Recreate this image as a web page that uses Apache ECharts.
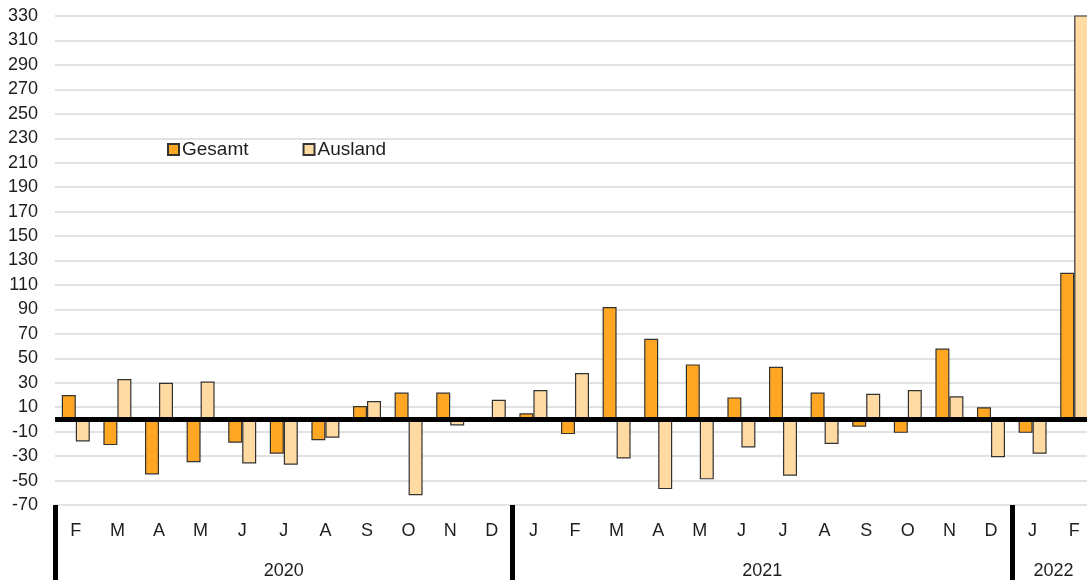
<!DOCTYPE html>
<html>
<head>
<meta charset="utf-8">
<script src="https://cdn.jsdelivr.net/npm/echarts@6/dist/echarts.min.js"></script>
<style>
  html, body { margin: 0; padding: 0; background: #fff; }
  #chart { width: 1087px; height: 580px; }
</style>
</head>
<body>
<div id="chart"></div>
<script>
// month labels, one per bar pair
const months = ['F', 'M', 'A', 'M', 'J', 'J', 'A', 'S', 'O', 'N', 'D',
  'J', 'F', 'M', 'A', 'M', 'J', 'J', 'A', 'S', 'O', 'N', 'D',
  'J', 'F'];
const years = ['2020', '2021', '2022'];
const yearCounts = [11, 12, 2];

const gesamt = [20, -21, -45, -35, -19, -28, -17, 11, 22, 22, 0,
  5, -12, 92, 66, 45, 18, 43, 22, -6, -11, 58, 10,
  -11, 120];
const ausland = [-18, 33, 30, 31, -36, -37, -15, 15, -62, -5, 16,
  24, 38, -32, -57, -49, -23, -46, -20, 21, 24, 19, -31,
  -28, 332];

// year group boundaries and centres on a 0..n scale
const bounds = [0];
const centres = [];
yearCounts.forEach(function (c) {
  const start = bounds[bounds.length - 1];
  centres.push(start + c / 2);
  bounds.push(start + c);
});

const font = 'Liberation Sans, Arial, sans-serif';
const textColor = '#1e1e1e';

const chart = echarts.init(document.getElementById('chart'));
chart.setOption({
  animation: false,
  textStyle: { fontFamily: font },
  // plot runs past the right edge, like the cropped original
  grid: { left: 55, top: 16, width: 1040, height: 489, outerBoundsMode: 'none', containLabel: false },
  legend: {
    left: 162,
    top: 135,
    itemWidth: 11,
    itemHeight: 11,
    itemGap: 54,
    icon: 'rect',
    textStyle: { fontSize: 19, color: textColor, fontFamily: font, padding: [0, 0, 0, -2] },
    data: ['Gesamt', 'Ausland']
  },
  xAxis: [
    {
      type: 'category',
      data: months,
      axisLine: { show: false, onZero: false },
      axisTick: { show: false },
      axisLabel: { fontSize: 18, color: textColor, margin: 17, interval: 0 },
      splitLine: { show: false }
    },
    {
      type: 'value',
      min: 0,
      max: months.length,
      position: 'bottom',
      axisLine: { show: false, onZero: false },
      splitLine: { show: false },
      axisTick: {
        show: true,
        customValues: bounds.slice(0, -1),
        length: 76,
        lineStyle: { color: '#000', width: 5 }
      },
      axisLabel: {
        customValues: centres,
        fontSize: 18,
        color: textColor,
        margin: 57,
        formatter: function (v) {
          const i = centres.indexOf(v);
          return i >= 0 ? years[i] : '';
        }
      }
    }
  ],
  yAxis: {
    type: 'value',
    min: -70,
    max: 330,
    interval: 20,
    axisLine: { show: false },
    axisTick: { show: false },
    axisLabel: { fontSize: 18, color: textColor, margin: 17 },
    splitLine: { lineStyle: { color: '#d8d8d8', width: 1.5 } }
  },
  series: [
    {
      name: 'Gesamt',
      type: 'bar',
      data: gesamt,
      barWidth: 14,
      barGap: '0%',
      itemStyle: { color: '#FFA622', borderColor: '#333', borderWidth: 1.2 },
      markLine: {
        silent: true,
        symbol: ['none', 'none'],
        label: { show: false },
        lineStyle: { color: '#000', width: 5, type: 'solid' },
        data: [{ yAxis: 0 }],
        z: 10
      }
    },
    {
      name: 'Ausland',
      type: 'bar',
      data: ausland,
      barWidth: 14,
      barGap: '0%',
      itemStyle: { color: '#FFDBA3', borderColor: '#333', borderWidth: 1.2 }
    }
  ]
});
</script>
</body>
</html>
